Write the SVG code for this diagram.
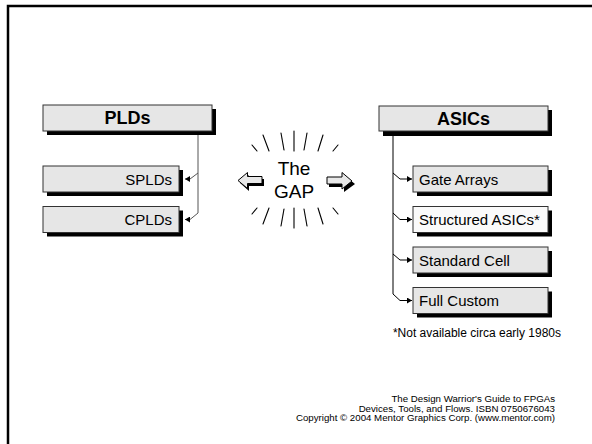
<svg xmlns="http://www.w3.org/2000/svg" width="592" height="444" viewBox="0 0 592 444">
<defs>
<style>
.box{fill:#e6e6e6;stroke:#333;stroke-width:1}
.wbox{fill:#fafafa;stroke:#333;stroke-width:1}
.sh{fill:#000}
.t{font-family:"Liberation Sans",Arial,sans-serif;font-size:15px;fill:#000}
.tb{font-family:"Liberation Sans",Arial,sans-serif;font-size:18px;font-weight:bold;fill:#000;text-anchor:middle}
.c{fill:none;stroke:#000;stroke-width:1}
.cg{fill:none;stroke:#555;stroke-width:1}
.ray{stroke:#000;stroke-width:1.1;stroke-linecap:round}
.cr{font-family:"Liberation Sans",Arial,sans-serif;font-size:9.7px;fill:#000;text-anchor:end}
</style>
<marker id="ar" markerWidth="6" markerHeight="6" refX="5" refY="3" orient="auto" markerUnits="userSpaceOnUse">
<path d="M0,0 L5,3 L0,6 Z" fill="#000"/>
</marker>
</defs>
<rect x="0" y="0" width="592" height="444" fill="#fff"/>
<rect x="8" y="6" width="600" height="450" fill="none" stroke="#000" stroke-width="2.5"/>

<g id="connectors">
<path class="cg" d="M198,131 V213 L190,219.5 H185" marker-end="url(#ar)"/>
<path class="cg" d="M198,173 L190,179 H185" marker-end="url(#ar)"/>
<path class="c" d="M393,131 V294 L400,300.5 H412" marker-end="url(#ar)"/>
<path class="c" d="M393,173 L400,179 H412" marker-end="url(#ar)"/>
<path class="c" d="M393,213 L400,219.5 H412" marker-end="url(#ar)"/>
<path class="c" d="M393,254 L400,260 H412" marker-end="url(#ar)"/>
</g>

<g id="plds">
<rect class="sh" x="47" y="109" width="169" height="26"/>
<rect class="box" x="43" y="105" width="169" height="26"/>
<text class="tb" x="127.5" y="124">PLDs</text>
</g>
<g id="splds">
<rect class="sh" x="47" y="170" width="136" height="26"/>
<rect class="box" x="43" y="166" width="136" height="26"/>
<text class="t" x="172" y="184.5" text-anchor="end">SPLDs</text>
</g>
<g id="cplds">
<rect class="sh" x="47" y="210.5" width="136" height="26"/>
<rect class="box" x="43" y="206.5" width="136" height="26"/>
<text class="t" x="172" y="225" text-anchor="end">CPLDs</text>
</g>

<g id="asics">
<rect class="sh" x="383" y="110" width="169" height="26"/>
<rect class="box" x="379" y="106" width="169" height="25"/>
<text class="tb" x="463.5" y="124.5">ASICs</text>
</g>
<g id="gate-arrays">
<rect class="sh" x="417" y="170" width="135" height="26"/>
<rect class="box" x="413" y="166" width="135" height="26"/>
<text class="t" x="419" y="184.5">Gate Arrays</text>
</g>
<g id="structured-asics">
<rect class="sh" x="417" y="210.5" width="135" height="26"/>
<rect class="wbox" x="413" y="206.5" width="135" height="26"/>
<text class="t" x="419" y="225">Structured ASICs*</text>
</g>
<g id="standard-cell">
<rect class="sh" x="417" y="251" width="135" height="26"/>
<rect class="box" x="413" y="247" width="135" height="26"/>
<text class="t" x="419" y="265.5">Standard Cell</text>
</g>
<g id="full-custom">
<rect class="sh" x="417" y="291.5" width="135" height="26"/>
<rect class="box" x="413" y="287.5" width="135" height="26"/>
<text class="t" x="419" y="306">Full Custom</text>
</g>

<g id="the-gap">
<line class="ray" x1="252" y1="145" x2="257" y2="151"/>
<line class="ray" x1="263" y1="135" x2="269" y2="151"/>
<line class="ray" x1="281" y1="133" x2="284" y2="150"/>
<line class="ray" x1="294" y1="131" x2="294" y2="151"/>
<line class="ray" x1="307" y1="133" x2="304" y2="150"/>
<line class="ray" x1="323" y1="135" x2="318" y2="151"/>
<line class="ray" x1="338" y1="145" x2="333" y2="151"/>
<line class="ray" x1="252" y1="214" x2="257" y2="208"/>
<line class="ray" x1="263" y1="224" x2="269" y2="208"/>
<line class="ray" x1="281" y1="226" x2="284" y2="209"/>
<line class="ray" x1="294" y1="228" x2="294" y2="208"/>
<line class="ray" x1="307" y1="226" x2="304" y2="209"/>
<line class="ray" x1="323" y1="224" x2="318" y2="208"/>
<line class="ray" x1="338" y1="214" x2="333" y2="208"/>
<text x="294" y="175" font-family="Liberation Sans, Arial, sans-serif" font-size="19" text-anchor="middle">The</text>
<text x="294" y="198" font-family="Liberation Sans, Arial, sans-serif" font-size="19" text-anchor="middle">GAP</text>
<polygon points="240,183 249,175 249,179 264,179 264,186 249,186 249,191" fill="#000"/>
<polygon points="238,180.5 247.5,172.5 247.5,176.5 262,176.5 262,183.5 247.5,183.5 247.5,188.5" fill="#e8e8e8" stroke="#000" stroke-width="1"/>
<polygon points="329,180 344,180 344,175 355,184 344,192 344,187 329,187" fill="#000"/>
<polygon points="327,177 342,177 342,172.5 352,181 342,189 342,184 327,184" fill="#e8e8e8" stroke="#000" stroke-width="1"/>
</g>

<text x="561" y="337" font-family="Liberation Sans, Arial, sans-serif" font-size="12" text-anchor="end">*Not available circa early 1980s</text>

<text class="cr" x="555" y="402">The Design Warrior's Guide to FPGAs</text>
<text class="cr" x="555" y="411.5">Devices, Tools, and Flows. ISBN 0750676043</text>
<text class="cr" x="555" y="421">Copyright © 2004 Mentor Graphics Corp. (www.mentor.com)</text>
</svg>
